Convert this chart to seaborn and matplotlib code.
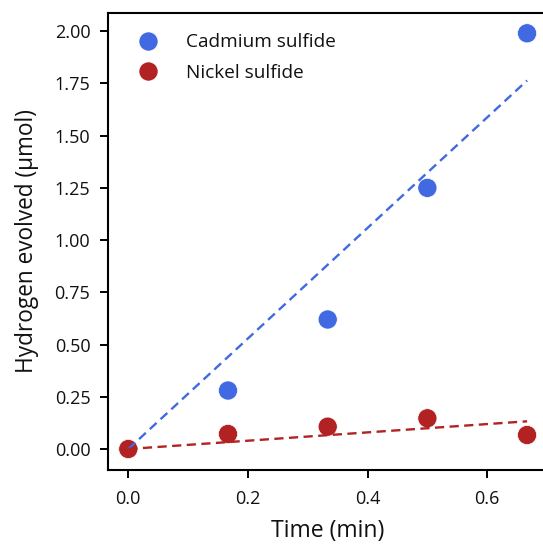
import numpy as np
import pandas as pd
import matplotlib
matplotlib.use("Agg")
import matplotlib.pyplot as plt
import seaborn as sns

time_min = [0.0, 1/6, 1/3, 1/2, 2/3]
cadmium = [0.0, 0.28, 0.62, 1.25, 1.99]
nickel = [0.0, 0.072, 0.107, 0.147, 0.067]
series_names = ["Cadmium sulfide", "Nickel sulfide"]
colors = {"Cadmium sulfide": "#4169E1", "Nickel sulfide": "#B22222"}

df = pd.DataFrame({
    "Time (min)": time_min * 2,
    "H2": cadmium + nickel,
    "Material": [series_names[0]] * 5 + [series_names[1]] * 5,
})

sns.set_theme(style="ticks")
plt.rcParams["font.family"] = ["Open Sans", "DejaVu Sans"]

fig = plt.figure(figsize=(5.43, 5.44), dpi=100)
ax = fig.add_axes([0.1996, 0.1364, 0.8078, 0.8406])

sns.scatterplot(data=df, x="Time (min)", y="H2", hue="Material",
                palette=colors, s=190, edgecolor="white", linewidth=0.5,
                ax=ax, zorder=3)

# least-squares fit through the origin for each series
x = np.array(time_min)
for name, vals in zip(series_names, [cadmium, nickel]):
    y = np.array(vals)
    slope = np.sum(x * y) / np.sum(x * x)
    ax.plot([x.min(), x.max()], [slope * x.min(), slope * x.max()],
            ls=(0, (3.9, 2.3)), lw=1.7, color=colors[name], zorder=4)

ax.set_xlim(-0.0333, 0.7)
ax.set_ylim(-0.0995, 2.0895)
yt = [0, 0.25, 0.5, 0.75, 1.0, 1.25, 1.5, 1.75, 2.0]
ax.set_xticks([0.0, 0.2, 0.4, 0.6])
ax.set_yticks(yt)
ax.set_yticklabels([f"{v:.2f}" for v in yt])
ax.set_xticklabels(["0.0", "0.2", "0.4", "0.6"])
ax.set_xlabel("Time (min)", fontsize=16.6, color="#111111", labelpad=8.5)
ax.set_ylabel("Hydrogen evolved (µmol)", fontsize=16.3, color="#111111", labelpad=11)
ax.tick_params(labelsize=13, length=6, width=1.4, color="black", labelcolor="#111111")
ax.tick_params(axis="y", pad=7)
ax.tick_params(axis="x", pad=8.2)
for sp in ax.spines.values():
    sp.set_linewidth(1.5)
    sp.set_color("black")
ax.spines["right"].set_visible(False)

leg = ax.legend(loc="upper left", bbox_to_anchor=(0.0306, 0.971), borderaxespad=0,
                frameon=False, fontsize=13.7, markerscale=1.0,
                handletextpad=1.0, labelspacing=0.65, borderpad=0.4)
for t in leg.get_texts():
    t.set_color("#111111")

fig.savefig("out.png", dpi=100)
